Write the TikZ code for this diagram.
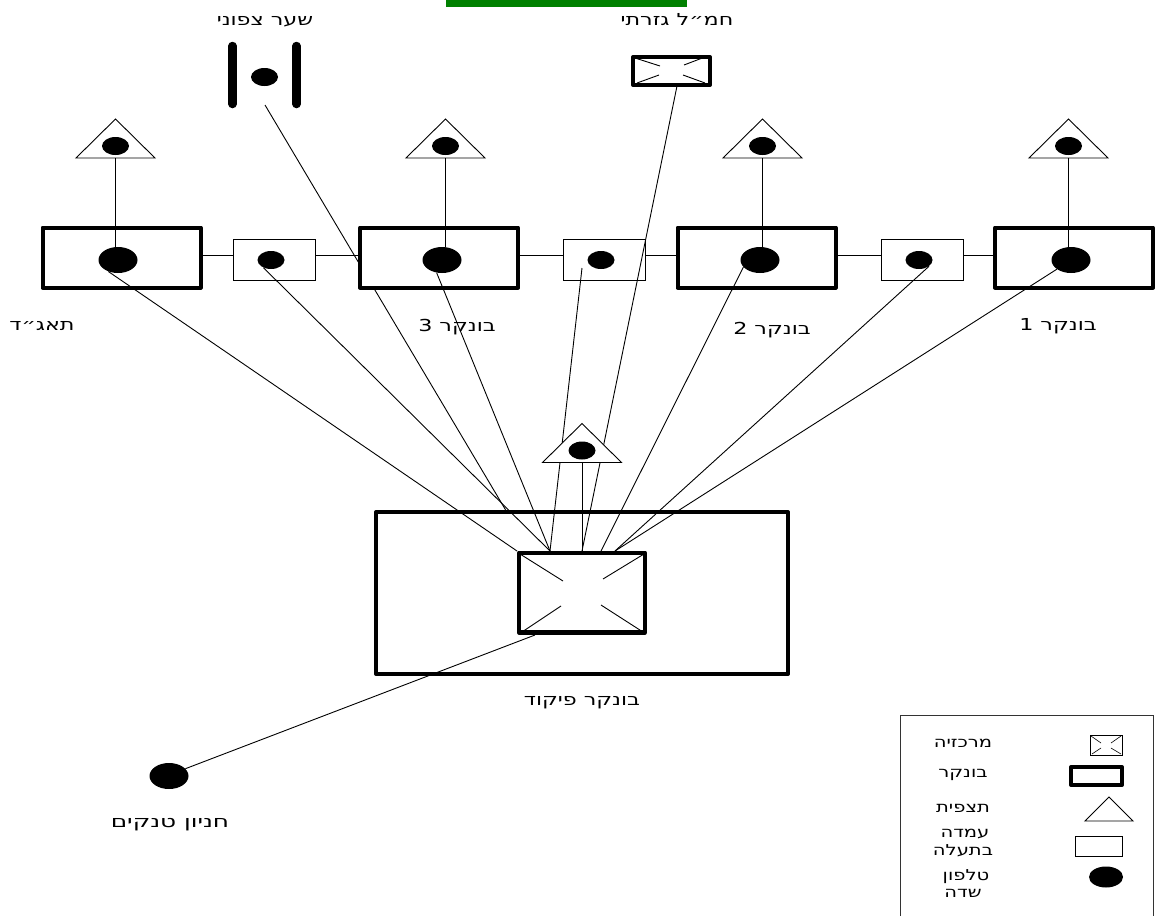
\documentclass[tikz,border=0pt]{standalone}
\usepackage{fontspec}
\usetikzlibrary{shapes.geometric}
\TeXXeTstate=1
\newfontfamily\hebfont[Script=Hebrew,FakeStretch=1.35]{DejaVu Sans}
\newfontfamily\hebwide[Script=Hebrew,FakeStretch=1.5]{DejaVu Sans}
\newfontfamily\hebkey[Script=Hebrew,FakeStretch=1.3]{DejaVu Sans}
\newcommand{\heb}[1]{\beginR #1\endR}
\newcommand{\towerat}[3]{% name, x, y of apex
  \draw[thin line,fill=white] (#2,#3) -- (#2+39.5,#3+39) -- (#2-39.5,#3+39) -- cycle;
  \coordinate (#1b) at (#2,#3+39);
  \node[smalldot] (#1e) at (#2,#3+27) {};
}
\tikzset{
  thin line/.style={line width=0.9pt,line join=miter},
  bunkerbox/.style={draw,line width=4pt,fill=white,rectangle,inner sep=0pt,minimum width=#1,minimum height=60pt,line join=round},
  bunkerbox/.default=157pt,
  trench/.style={draw,line width=0.8pt,fill=white,rectangle,inner sep=0pt,minimum width=82pt,minimum height=41pt},
  bigdot/.style={ellipse,fill=black,inner sep=0pt,minimum width=39pt,minimum height=26pt},
  smalldot/.style={ellipse,fill=black,inner sep=0pt,minimum width=27pt,minimum height=18pt},
  lab/.style={font=\hebfont\fontsize{16.5}{20}\selectfont,inner sep=0pt,align=center,text=black},
  labw/.style={font=\hebwide\fontsize{16.5}{20}\selectfont,inner sep=0pt,align=center,text=black},
  labk/.style={font=\hebkey\fontsize{15}{18}\selectfont,inner sep=0pt,align=center,text=black},
  link/.style={line width=0.9pt},
  gatebar/.style={line width=8.5pt,line cap=round},
}
\begin{document}
\begin{tikzpicture}[x=1pt,y=-1pt]
\useasboundingbox (0,0) rectangle (1156,916);
% green bar
\fill[fill={rgb,255:red,0;green,128;blue,0}] (446,0) rectangle (687,7);
% gate
\draw[gatebar] (232.5,46) -- (232.5,104);
\draw[gatebar] (296.5,46) -- (296.5,104);
\node[smalldot] (gatee) at (264.5,77) {};
\node[lab] (gatel) at (265,22) {\heb{שער צפוני}};
% gate line hidden behind bunker 3
\coordinate (gates) at (265,105);
\coordinate (pa) at (530,551);
\draw[link] (gates) -- (pa);
% command bunker
\node[bunkerbox=412pt,minimum height=162pt] (cmdouter) at (582,593) {};
% bunkers and trenches
\coordinate (rowy) at (0,255);
\node[bunkerbox=158pt] (tg) at (121.5,257.5) {};
\node[bunkerbox=158pt] (b3) at (439,257.5) {};
\node[bunkerbox=158pt] (b2) at (756.5,257.5) {};
\node[bunkerbox=158pt] (b1) at (1074,257.5) {};
\node[trench] (s1) at (274,259.5) {};
\node[trench] (s2) at (604,259.5) {};
\node[trench] (s3) at (922,259.5) {};
\draw[link] (tg.east |- rowy) -- (s1.west |- rowy);
\draw[link] (s1.east |- rowy) -- (b3.west |- rowy);
\draw[link] (b3.east |- rowy) -- (s2.west |- rowy);
\draw[link] (s2.east |- rowy) -- (b2.west |- rowy);
\draw[link] (b2.east |- rowy) -- (s3.west |- rowy);
\draw[link] (s3.east |- rowy) -- (b1.west |- rowy);
\node[bigdot] (tge) at (118,260) {};
\node[bigdot] (b3e) at (442,260) {};
\node[bigdot] (b2e) at (760,260) {};
\node[bigdot] (b1e) at (1071,260) {};
\node[smalldot] (s1e) at (271,260) {};
\node[smalldot] (s2e) at (601,260) {};
\node[smalldot] (s3e) at (919,260) {};
% towers
\towerat{t1}{115.5}{119}
\towerat{t2}{445.5}{119}
\towerat{t3}{762.5}{119}
\towerat{t4}{1068.5}{119}
\draw[link] (t1b) -- (t1b |- tge.north);
\draw[link] (t2b) -- (t2b |- b3e.north);
\draw[link] (t3b) -- (t3b |- b2e.north);
\draw[link] (t4b) -- (t4b |- b1e.north);
% regional HQ
\node[draw,line width=4pt,fill=white,rectangle,inner sep=0pt,minimum width=77pt,minimum height=28pt,line join=round] (hq) at (671.5,71) {};
\draw[link] (635,58) -- (660,66) (705,57) -- (684,65) (637,83) -- (659,75) (705,83) -- (683,75);
\node[lab] (hql) at (677,20) {\heb{חמ״ל גזרתי}};
% hub ports
\coordinate (pb) at (517,551);
\coordinate (pc) at (550,551);
\coordinate (pd) at (582,551);
\coordinate (pe) at (601,551);
\coordinate (pf) at (615,551);
\coordinate (hqs) at (677,86);
\coordinate (s2s) at (582,268);
\draw[link] (tge.230) -- (pb);
\draw[link] (s1e.225) -- (pc);
\draw[link] (b3e.247) -- (pc);
\draw[link] (s2s) -- (pc);
\draw[link] (hqs) -- (pd);
\draw[link] (b2e.203) -- (pe);
\draw[link] (s3e.-32) -- (pf);
\draw[link] (b1e.213) -- (pf);
% centre watchtower
\towerat{t5}{582}{423.5}
\draw[link] (t5b) -- (pd);
% command centre
\node[bunkerbox=126pt,minimum height=79.5pt,line width=4.5pt] (cmd) at (582,592.5) {};
\draw[link] (520,554) -- (563,581) (644,554) -- (603,579) (522,632) -- (561,606) (643,632) -- (601,605);
% tanks
\node[bigdot] (tank) at (169,776) {};
\coordinate (cmds) at (535,635);
\draw[link] (cmds) -- (tank.24);
% labels
\node[lab] (l1) at (42,326) {\heb{תאג״ד}};
\node[lab] (l2) at (457,327) {\heb{בונקר 3}};
\node[lab] (l3) at (772,330) {\heb{בונקר 2}};
\node[lab] (l4) at (1058,326) {\heb{בונקר 1}};
\node[lab] (l5) at (582,702.5) {\heb{בונקר פיקוד}};
\node[labw] (l6) at (170,825) {\heb{חניון טנקים}};
% legend
\draw[line width=0.8pt,draw=black!80] (900,916) -- (900,715) -- (1153,715) -- (1153,916);
\node[draw,line width=0.7pt,rectangle,inner sep=0pt,minimum width=32pt,minimum height=20pt] (k1) at (1106,745) {};
\draw[line width=0.6pt] (1091,736) -- (1101,743) (1121,736) -- (1111,743) (1092,754) -- (1101,748) (1121,754) -- (1111,748);
\node[draw,line width=4pt,rectangle,inner sep=0pt,minimum width=51pt,minimum height=18pt,line join=round] (k2) at (1096.5,776) {};
\draw[thin line] (1109,797) -- (1133,821) -- (1085,821) -- cycle;
\node[draw,line width=0.7pt,rectangle,inner sep=0pt,minimum width=47pt,minimum height=20pt] (k4) at (1098.5,846) {};
\node[ellipse,fill=black,inner sep=0pt,minimum width=34pt,minimum height=21pt] (k5) at (1106,877) {};
\node[labk] (m1) at (963,743) {\heb{מרכזיה}};
\node[labk] (m2) at (963,775) {\heb{בונקר}};
\node[labk] (m3) at (963,808) {\heb{תצפית}};
\node[labk] (m4a) at (965,834) {\heb{עמדה}};
\node[labk] (m4b) at (963,851) {\heb{בתעלה}};
\node[labk] (m5a) at (966,877) {\heb{טלפון}};
\node[labk] (m5b) at (963,893) {\heb{שדה}};
\end{tikzpicture}
\end{document}
